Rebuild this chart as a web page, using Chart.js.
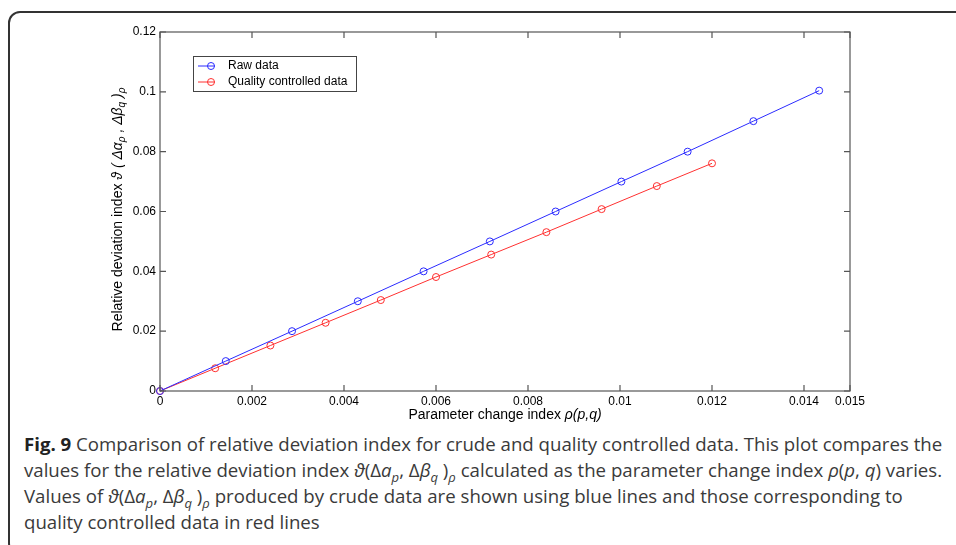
<!DOCTYPE html>
<html>
<head>
<meta charset="utf-8">
<script src="https://cdn.jsdelivr.net/npm/chart.js@4.4.1/dist/chart.umd.min.js"></script>
<style>
  body { margin: 0; background: #fff; width: 956px; height: 545px; overflow: hidden; position: relative; }
  #frame { position: absolute; left: 8px; top: 11px; width: 1000px; height: 540px; border: 2px solid #333; border-radius: 12px; }
  #chart { position: absolute; left: 0; top: 0; }
  #caption { position: absolute; left: 24px; top: 431px; width: 930px; font-family: "Open Sans", sans-serif; font-size: 18.65px; line-height: 26px; color: #3a3a3a; white-space: nowrap; }
  #caption b { color: #222; }
  #caption sub { font-size: 70%; line-height: 0; }
</style>
</head>
<body>
<div id="frame"></div>
<canvas id="chart" width="956" height="425"></canvas>
<div id="caption">
<b>Fig. 9</b> Comparison of relative deviation index for crude and quality controlled data. This plot compares the<br>
values for the relative deviation index <i>ϑ</i>(Δ<i>a</i><sub><i>p</i></sub>, Δ<i>β</i><sub><i>q</i></sub> )<sub><i>ρ</i></sub> calculated as the parameter change index <i>ρ</i>(<i>p</i>, <i>q</i>) varies.<br>
Values of <i>ϑ</i>(Δ<i>a</i><sub><i>p</i></sub>, Δ<i>β</i><sub><i>q</i></sub> )<sub><i>ρ</i></sub> produced by crude data are shown using blue lines and those corresponding to<br>
quality controlled data in red lines
</div>
<script>
// valores
var rawX = [0, 0.00143, 0.00287, 0.0043, 0.00573, 0.00717, 0.0086, 0.01003, 0.01147, 0.0129, 0.01433];
var rawY = [0, 0.0100, 0.0200, 0.0300, 0.0400, 0.0500, 0.0600, 0.0700, 0.0800, 0.0902, 0.1004];
var qcX = [0, 0.0012, 0.0024, 0.0036, 0.0048, 0.006, 0.0072, 0.0084, 0.0096, 0.0108, 0.012];
var qcY = [0, 0.0076, 0.0152, 0.0228, 0.0304, 0.0381, 0.0456, 0.0531, 0.0608, 0.0685, 0.0761];
var xTicks = [0, 0.002, 0.004, 0.006, 0.008, 0.01, 0.012, 0.014, 0.015];
var yTicks = [0, 0.02, 0.04, 0.06, 0.08, 0.1, 0.12];
var seriesNames = ['Raw data', 'Quality controlled data'];
var seriesColors = ['#2b2bff', '#ff3030'];

function toPoints(xs, ys) {
  return xs.map(function(x, i){ return {x: x, y: ys[i]}; });
}
function fmt(v) { return String(Number(v.toFixed(4))); }

var axisFont = { family: 'Arial, "Liberation Sans", sans-serif', size: 12 };

// caixa, ticks para dentro, legenda e títulos estilo MATLAB
var matlabPlugin = {
  id: 'matlab',
  afterDraw: function(chart) {
    var ctx = chart.ctx, a = chart.chartArea;
    var xs = chart.scales.x, ys = chart.scales.y;
    ctx.save();
    ctx.strokeStyle = '#555';
    ctx.lineWidth = 1.2;
    ctx.strokeRect(a.left, a.top, a.right - a.left, a.bottom - a.top);
    ctx.beginPath();
    xTicks.forEach(function(v){
      var px = xs.getPixelForValue(v);
      ctx.moveTo(px, a.bottom); ctx.lineTo(px, a.bottom - 6);
      ctx.moveTo(px, a.top); ctx.lineTo(px, a.top + 6);
    });
    yTicks.forEach(function(v){
      var py = ys.getPixelForValue(v);
      ctx.moveTo(a.left, py); ctx.lineTo(a.left + 6, py);
      ctx.moveTo(a.right, py); ctx.lineTo(a.right - 6, py);
    });
    ctx.stroke();

    // legenda
    var lx = a.left + 33, ly = a.top + 24, lw = 163, lh = 35;
    ctx.fillStyle = '#fff';
    ctx.fillRect(lx, ly, lw, lh);
    ctx.strokeStyle = '#444';
    ctx.lineWidth = 1;
    ctx.strokeRect(lx + 0.5, ly + 0.5, lw, lh);
    ctx.font = '12px Arial, "Liberation Sans", sans-serif';
    ctx.textBaseline = 'middle';
    chart.data.datasets.forEach(function(ds, i){
      var ry = ly + 10 + i * 16;
      ctx.strokeStyle = ds.borderColor;
      ctx.beginPath();
      ctx.moveTo(lx + 5, ry); ctx.lineTo(lx + 22, ry);
      ctx.stroke();
      ctx.beginPath();
      ctx.arc(lx + 18, ry, 3.5, 0, Math.PI * 2);
      ctx.stroke();
      ctx.fillStyle = '#000';
      ctx.fillText(ds.label, lx + 35, ry);
    });

    // título do eixo x
    var xParts = [
      {t: 'Parameter change index ', f: '14px Arial, "Liberation Sans", sans-serif'},
      {t: 'ρ(p,q)', f: 'italic 14px Arial, "Liberation Sans", sans-serif'}
    ];
    drawParts(ctx, xParts, (a.left + a.right) / 2, a.bottom + 24, 0);

    // título do eixo y
    var it = 'italic 14px Arial, "Liberation Sans", sans-serif';
    var sb = 'italic 10px Arial, "Liberation Sans", sans-serif';
    var yParts = [
      {t: 'Relative deviation index ', f: '14px Arial, "Liberation Sans", sans-serif'},
      {t: 'ϑ ( Δα', f: it}, {t: 'ρ', f: sb, sub: true},
      {t: ' , Δβ', f: it}, {t: 'q', f: sb, sub: true},
      {t: ' )', f: it}, {t: 'ρ', f: sb, sub: true}
    ];
    drawParts(ctx, yParts, a.left - 42, (a.top + a.bottom) / 2 - 2, -Math.PI / 2);
    ctx.restore();
  }
};

function drawParts(ctx, parts, cx, cy, rot) {
  var total = 0;
  parts.forEach(function(p){ ctx.font = p.f; p.w = ctx.measureText(p.t).width; total += p.w; });
  ctx.save();
  ctx.translate(cx, cy);
  ctx.rotate(rot);
  ctx.fillStyle = '#000';
  ctx.textBaseline = 'middle';
  var x = -total / 2;
  parts.forEach(function(p){
    ctx.font = p.f;
    ctx.fillText(p.t, x, p.sub ? 4 : 0);
    x += p.w;
  });
  ctx.restore();
}

var chart = new Chart(document.getElementById('chart'), {
  type: 'scatter',
  data: {
    datasets: [
      { label: seriesNames[0], data: toPoints(rawX, rawY), borderColor: seriesColors[0] },
      { label: seriesNames[1], data: toPoints(qcX, qcY), borderColor: seriesColors[1] }
    ]
  },
  options: {
    responsive: false,
    animation: false,
    devicePixelRatio: 1,
    layout: { padding: { left: 100, top: 32, right: 106, bottom: 14 } },
    elements: {
      line: { borderWidth: 1, tension: 0 },
      point: { radius: 3.5, borderWidth: 1, backgroundColor: 'rgba(0,0,0,0)' }
    },
    datasets: { scatter: { showLine: true, clip: false, pointBackgroundColor: 'rgba(0,0,0,0)' } },
    plugins: { legend: { display: false }, tooltip: { enabled: false } },
    scales: {
      x: {
        type: 'linear', min: 0, max: 0.015,
        afterBuildTicks: function(s){ s.ticks = xTicks.map(function(v){ return {value: v}; }); },
        afterFit: function(s){ s.height = 20; },
        grid: { display: false, drawTicks: false },
        border: { display: false },
        ticks: { color: '#000', font: axisFont, padding: 3, maxRotation: 0, autoSkip: false, callback: fmt }
      },
      y: {
        type: 'linear', min: 0, max: 0.12,
        afterBuildTicks: function(s){ s.ticks = yTicks.map(function(v){ return {value: v}; }); },
        afterFit: function(s){ s.width = 60; },
        grid: { display: false, drawTicks: false },
        border: { display: false },
        ticks: { color: '#000', font: axisFont, padding: 4, autoSkip: false, callback: fmt }
      }
    }
  },
  plugins: [matlabPlugin]
});
</script>
</body>
</html>
